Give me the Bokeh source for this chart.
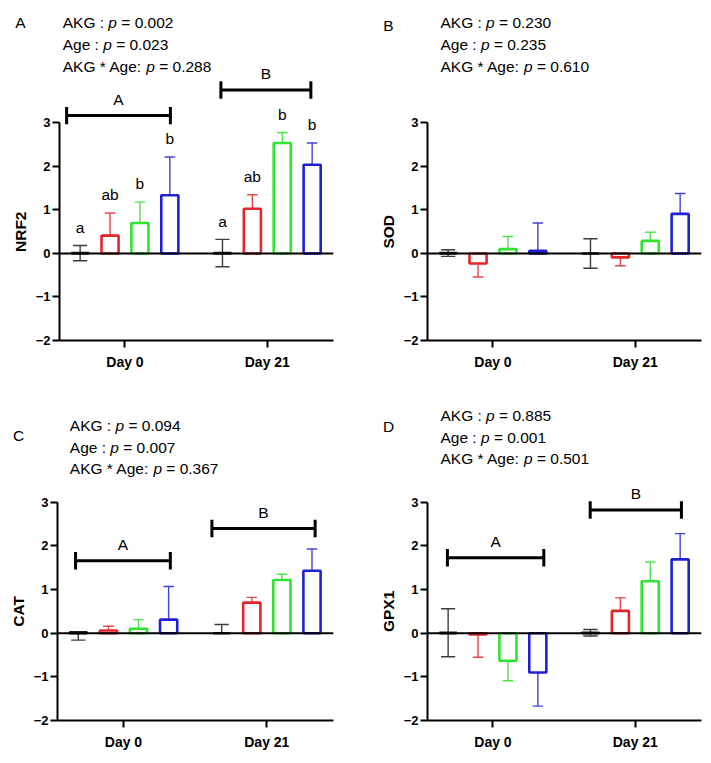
import math
from bokeh.plotting import figure
from bokeh.models import Label, Span, FixedTicker, Range1d
from bokeh.layouts import row, column
from bokeh.embed import file_html
from bokeh.resources import INLINE
from bokeh.core.properties import value

# ---------------- data ----------------
groups = ["Day 0", "Day 21"]
treatments = ["Control", "AKG low", "AKG mid", "AKG high"]
bar_colors = ["#1e1e1e", "#e2262b", "#2fe42f", "#2020d2"]
err_colors = ["#3c3c3c", "#e0464a", "#4be44b", "#4343d4"]

nrf2_mean = [0.01, 0.41, 0.70, 1.34, 0.01, 1.03, 2.54, 2.04]
nrf2_sd = [0.175, 0.52, 0.48, 0.88, 0.315, 0.32, 0.24, 0.50]
nrf2_dir = ["both", "up", "up", "up", "both", "up", "up", "up"]
nrf2_letters = ["a", "ab", "b", "b", "a", "ab", "b", "b"]
nrf2_p = ["0.002", "0.023", "0.288"]

sod_mean = [0.01, -0.23, 0.10, 0.06, 0.00, -0.09, 0.29, 0.91]
sod_sd = [0.075, 0.31, 0.29, 0.64, 0.34, 0.19, 0.20, 0.47]
sod_dir = ["both", "down", "up", "up", "both", "down", "up", "up"]
sod_p = ["0.230", "0.235", "0.610"]

cat_mean = [0.02, 0.06, 0.10, 0.31, 0.00, 0.70, 1.22, 1.43]
cat_sd = [0.18, 0.10, 0.21, 0.76, 0.20, 0.12, 0.13, 0.50]
cat_dir = ["down", "up", "up", "up", "up", "up", "up", "up"]
cat_p = ["0.094", "0.007", "0.367"]

gpx1_mean = [0.01, -0.03, -0.63, -0.90, 0.01, 0.51, 1.19, 1.69]
gpx1_sd = [0.55, 0.52, 0.46, 0.77, 0.075, 0.30, 0.44, 0.59]
gpx1_dir = ["both", "down", "down", "down", "both", "up", "up", "up"]
gpx1_p = ["0.885", "0.001", "0.501"]

p_prefixes = ["AKG : ", "Age : ", "AKG * Age: "]

# brackets: (x start, x end, height, label)
nrf2_brackets = [(-0.41, 0.319, 3.17, "A"), (0.674, 1.306, 3.76, "B")]
cat_brackets = [(-0.334, 0.327, 1.66, "A"), (0.617, 1.337, 2.40, "B")]
gpx1_brackets = [(-0.32, 0.357, 1.73, "A"), (0.683, 1.324, 2.82, "B")]

# ---------------- helpers ----------------
FONT = "Liberation Sans"
TXT = "15.5px"
ARIAL = {' ': 278, ':': 278, '*': 389, '=': 584, '.': 278, 'A': 667, 'K': 667,
         'G': 778, 'g': 556, 'e': 556, 'p': 556}
for d in "0123456789":
    ARIAL[d] = 556


def tw(s, size=15.5):
    return sum(ARIAL.get(c, 556) for c in s) * size / 1000.0


offsets = [-0.315, -0.105, 0.105, 0.315]


def side_panel(ylabel, letter, letter_y, y_end, width, height, bb, cx):
    s = figure(width=width, height=height, x_range=Range1d(0, width),
               y_range=Range1d(-2, y_end), output_backend="svg", toolbar_location=None,
               x_axis_type=None, y_axis_type=None, min_border_left=0, min_border_right=0,
               min_border_top=0, min_border_bottom=bb)
    s.outline_line_color = None
    s.grid.visible = False
    s.text(x=[cx], y=[0.5], text=[ylabel], angle=math.pi / 2, text_align="center",
           text_baseline="middle", text_font=value(FONT), text_font_style="bold",
           text_font_size="15.5px", text_color="black")
    s.text(x=[cx], y=[letter_y], text=[letter], text_align="center",
           text_baseline="middle", text_font=value(FONT), text_font_size=TXT,
           text_color="black")
    return s


def make_panel(mean, sd, dirs, pvals, text_x, text_ys, brackets, sig_letters,
               y_end, frame_w, height, bl, br, bb):
    p = figure(width=bl + frame_w + br, height=height, x_range=Range1d(-0.46, 1.465),
               y_range=Range1d(-2, y_end), output_backend="svg", toolbar_location=None,
               min_border_left=bl, min_border_right=br, min_border_top=0,
               min_border_bottom=bb)
    p.outline_line_color = None
    p.grid.visible = False

    # axes
    p.yaxis.ticker = FixedTicker(ticks=[-2, -1, 0, 1, 2, 3])
    p.yaxis.bounds = (-2, 3)
    p.yaxis.major_label_overrides = {-2: "\u22122", -1: "\u22121", 0: "0", 1: "1", 2: "2", 3: "3"}
    p.xaxis.ticker = FixedTicker(ticks=[0, 1])
    p.xaxis.major_label_overrides = {0: groups[0], 1: groups[1]}
    for ax in (p.xaxis, p.yaxis):
        ax.axis_line_width = 2
        ax.axis_line_color = "black"
        ax.major_tick_line_width = 2
        ax.major_tick_line_color = "black"
        ax.major_tick_out = 7
        ax.major_tick_in = 0
        ax.minor_tick_line_color = None
        ax.major_label_text_font = FONT
        ax.major_label_text_font_style = "bold"
        ax.major_label_text_color = "black"
    p.yaxis.major_label_text_font_size = "13px"
    p.yaxis.major_label_standoff = 2
    p.xaxis.major_label_text_font_size = "14px"
    p.xaxis.major_label_standoff = 6

    xs = [g + offsets[k] for g in range(2) for k in range(4)]
    cols = bar_colors * 2
    ecols = err_colors * 2
    caps = [0.05, 0.037, 0.037, 0.037] * 2

    # error bars
    x0s, y0s, x1s, y1s, sc = [], [], [], [], []
    for x, m, s, d, c, cw in zip(xs, mean, sd, dirs, ecols, caps):
        ends = []
        if d in ("up", "both"):
            ends.append(m + s)
        if d in ("down", "both"):
            ends.append(m - s)
        for e in ends:
            x0s += [x, x - cw]
            x1s += [x, x + cw]
            y0s += [m, e]
            y1s += [e, e]
            sc += [c, c]
    p.segment(x0=x0s, y0=y0s, x1=x1s, y1=y1s, line_color=sc, line_width=1.4)

    # bars
    p.vbar(x=xs, top=mean, bottom=0, width=0.12, fill_color=None,
           line_color=cols, line_width=2.6)

    # zero line
    p.add_layout(Span(location=0, dimension="width", line_color="black", line_width=2))

    # significance letters
    if sig_letters:
        ly = [m + s + 0.42 for m, s in zip(mean, sd)]
        p.text(x=xs, y=ly, text=sig_letters, text_align="center", text_baseline="middle",
               text_font=value(FONT), text_font_size=TXT, text_color="black")

    # brackets
    for (a, b, h, lab) in brackets:
        p.segment(x0=[a, a, b], y0=[h, h - 0.2, h - 0.2], x1=[b, a, b], y1=[h, h + 0.2, h + 0.2],
                  line_color="black", line_width=3)
        p.text(x=[(a + b) / 2], y=[h + 0.37], text=[lab], text_align="center",
               text_baseline="middle", text_font=value(FONT), text_font_size=TXT,
               text_color="black")

    # p-value lines with italic p
    for pre, pv, yy in zip(p_prefixes, pvals, text_ys):
        p.add_layout(Label(x=text_x, y=yy, text=pre.rstrip(), text_align="left",
                           text_baseline="middle", text_font=FONT, text_font_size=TXT,
                           text_color="black"))
        p.add_layout(Label(x=text_x, y=yy, x_offset=tw(pre), text="p", text_align="left",
                           text_baseline="middle", text_font=FONT, text_font_size=TXT,
                           text_font_style="italic", text_color="black"))
        p.add_layout(Label(x=text_x, y=yy, x_offset=tw(pre + "p "), text="= " + pv,
                           text_align="left", text_baseline="middle", text_font=FONT,
                           text_font_size=TXT, text_color="black"))
    return p


Y1 = 5.816
Y2 = 5.559

sA = side_panel("NRF2", "A", 5.30, Y1, 32, 390, 50, 20)
pA = make_panel(nrf2_mean, nrf2_sd, nrf2_dir, nrf2_p, -0.4375,
                [5.30, 4.81, 4.31], nrf2_brackets, nrf2_letters,
                Y1, 277, 390, 24, 43, 50)
sB = side_panel("SOD", "B", 5.24, Y1, 24, 390, 50, 12)
pB = make_panel(sod_mean, sod_sd, sod_dir, sod_p, -0.369,
                [5.30, 4.81, 4.31], [], None,
                Y1, 277, 390, 24, 10, 50)
sC = side_panel("CAT", "C", 4.53, Y2, 30, 373, 43, 18)
pC = make_panel(cat_mean, cat_sd, cat_dir, cat_p, -0.374,
                [4.757, 4.26, 3.77], cat_brackets, None,
                Y2, 279, 373, 24, 43, 43)
sD = side_panel("GPX1", "D", 4.73, Y2, 24, 373, 43, 12)
pD = make_panel(gpx1_mean, gpx1_sd, gpx1_dir, gpx1_p, -0.369,
                [4.986, 4.48, 4.00], gpx1_brackets, None,
                Y2, 277, 373, 24, 10, 43)

layout = column(row(sA, pA, sB, pB), row(sC, pC, sD, pD))
open("out.html", "w").write(file_html(layout, INLINE))
